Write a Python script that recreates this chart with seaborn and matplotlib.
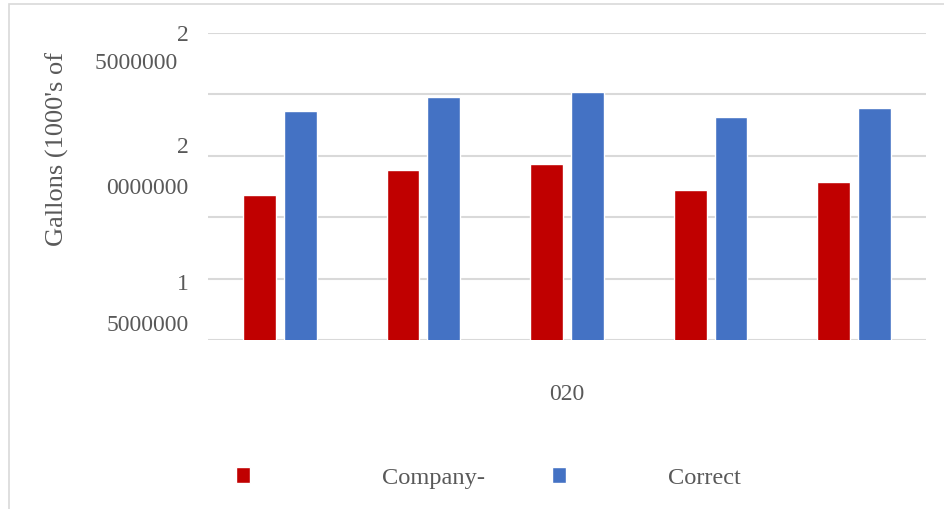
# Import libraries
import pandas as pd
import matplotlib
matplotlib.use("Agg")
import matplotlib.pyplot as plt
import matplotlib.transforms as mtransforms
from matplotlib.patches import Rectangle
import seaborn as sns

# Data
categories = ["A", "B", "C", "D", "E"]
series_names = ["Company-", "Correct"]
company_vals = [18.40e6, 19.42e6, 19.67e6, 18.61e6, 18.93e6]
correct_vals = [21.82e6, 22.39e6, 22.60e6, 21.58e6, 21.95e6]
y_ticks = [12.5e6, 15e6, 17.5e6, 20e6, 22.5e6, 25e6]
y_ticklabels = ["", "1\n5000000", "", "2\n0000000", "", "2\n5000000  "]

df = pd.DataFrame({
    "Category": categories * 2,
    "Series": [series_names[0]] * 5 + [series_names[1]] * 5,
    "Value": company_vals + correct_vals,
})

# Style
sns.set_style("white")
plt.rcParams["font.family"] = ["Liberation Serif", "DejaVu Serif"]
text_color = "#595959"
grid_color = "#D9D9D9"
palette = {"Company-": "#C00000", "Correct": "#4472C4"}

fig = plt.figure(figsize=(9.45, 5.09), dpi=100)
ax = fig.add_axes([208 / 945, 1 - 340 / 509, 718 / 945, 307 / 509])

sns.barplot(data=df, x="Category", y="Value", hue="Series", palette=palette,
            width=0.57, gap=0.2, saturation=1, ax=ax)

ax.set_xlim(-0.5, 4.5)
ax.set_ylim(12.5e6, 25e6)
ax.set_yticks(y_ticks)
ax.set_yticklabels(y_ticklabels, fontsize=17, color=text_color,
                   multialignment="right")
ax.tick_params(axis="y", length=0, pad=14)
ax.set_xticks([])
ax.grid(axis="y", color=grid_color, linewidth=1.5)
ax.set_axisbelow(True)
for sp in ax.spines.values():
    sp.set_visible(False)

# Nudge the wrapped tick labels to where they sit in the reference
label_adjust = {"2\n5000000  ": (10.5, 1.41), "2\n0000000": (0, 2.24), "1\n5000000": (14, 2.24)}
for lab in ax.get_yticklabels():
    dy, ls = label_adjust.get(lab.get_text(), (0, 1.2))
    lab.set_linespacing(ls)
    lab.set_transform(lab.get_transform() +
                      mtransforms.ScaledTranslation(0, -dy / 100, fig.dpi_scale_trans))

ax.set_ylabel("Gallons (1000's of", fontsize=19, color=text_color, va="center")
ax.yaxis.set_label_coords((57 - 208) / 718, 1 - (149 - 33) / 307)
ax.set_xlabel("020", fontsize=17, color=text_color, va="center")
ax.xaxis.set_label_coords(0.5, (340 - 395) / 307)

# Legend at the bottom (two entries with different spacing)
handles, labels = ax.get_legend_handles_labels()
ax.legend_.remove()
legend_y = 1 - 478 / 509
legend_kw = dict(loc="center left", frameon=False, fontsize=17.6,
                 labelcolor=text_color, borderpad=0, borderaxespad=0,
                 handlelength=0.58, handleheight=0.6)
fig.legend(handles[:1], labels[:1], bbox_to_anchor=(236 / 945, legend_y),
           handletextpad=5.4, **legend_kw)
fig.legend(handles[1:], labels[1:], bbox_to_anchor=(552 / 945, legend_y),
           handletextpad=4.17, **legend_kw)

# Chart area border
fig.add_artist(Rectangle((9 / 945, -0.1), 1.1, 1 - 4 / 509 + 0.1,
                         transform=fig.transFigure, fill=False,
                         edgecolor=grid_color, linewidth=1.2))

plt.savefig("out.png", dpi=100)
